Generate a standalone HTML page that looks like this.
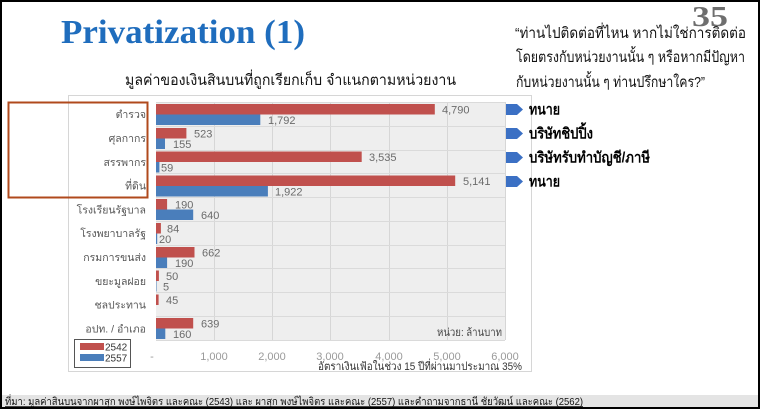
<!DOCTYPE html>
<html>
<head>
<meta charset="utf-8">
<style>
  html,body{margin:0;padding:0;background:#fff;}
  svg{display:block;}
  .th{font-family:"Liberation Sans","DejaVu Sans","Noto Sans CJK SC",sans-serif;}
  .cat{font-size:10.5px;fill:#555;}
  .val{font-size:11px;fill:#6b6b6b;font-family:"Liberation Sans",sans-serif;}
  .tick{font-size:11px;fill:#9a9a9a;font-family:"Liberation Sans",sans-serif;}
  .arr{font-size:15px;font-weight:bold;fill:#000;}
</style>
</head>
<body>
<svg width="760" height="409" viewBox="0 0 760 409" xmlns="http://www.w3.org/2000/svg">
  <rect x="0" y="0" width="760" height="409" fill="#fff"/>

  <!-- Title -->
  <text x="61" y="43" font-family="'Liberation Serif',serif" font-weight="bold" font-size="34" fill="#1f6dbd" textLength="244" lengthAdjust="spacingAndGlyphs">Privatization (1)</text>
  <!-- page number -->
  <text x="692" y="26" font-family="'Liberation Serif',serif" font-weight="bold" font-size="28" fill="#6e6e6e" textLength="36" lengthAdjust="spacingAndGlyphs">35</text>

  <!-- Quote -->
  <text class="th" x="515" y="38" font-size="15" fill="#111" textLength="231" lengthAdjust="spacingAndGlyphs">“ท่านไปติดต่อที่ไหน หากไม่ใช่การติดต่อ</text>
  <text class="th" x="516" y="62" font-size="15" fill="#111" textLength="229" lengthAdjust="spacingAndGlyphs">โดยตรงกับหน่วยงานนั้น ๆ หรือหากมีปัญหา</text>
  <text class="th" x="516" y="87" font-size="15" fill="#111" textLength="189" lengthAdjust="spacingAndGlyphs">กับหน่วยงานนั้น ๆ ท่านปรึกษาใคร?”</text>

  <!-- Subtitle -->
  <text class="th" x="125" y="85" font-size="15" fill="#111" textLength="331" lengthAdjust="spacingAndGlyphs">มูลค่าของเงินสินบนที่ถูกเรียกเก็บ จำแนกตามหน่วยงาน</text>

  <!-- Chart panel -->
  <rect x="68.5" y="95.5" width="463" height="276" fill="#fff" stroke="#d6d6d6" stroke-width="1"/>
  <!-- Plot area -->
  <rect x="156" y="102" width="349" height="238" fill="#eeeeee"/>
  <!-- vertical gridlines -->
  <g stroke="#d6d6d6" stroke-width="1">
    <line x1="214.5" y1="102" x2="214.5" y2="340"/>
    <line x1="272.5" y1="102" x2="272.5" y2="340"/>
    <line x1="330.5" y1="102" x2="330.5" y2="340"/>
    <line x1="389.5" y1="102" x2="389.5" y2="340"/>
    <line x1="447.5" y1="102" x2="447.5" y2="340"/>
    <line x1="505.5" y1="102" x2="505.5" y2="340"/>
  </g>
  <!-- horizontal gridlines -->
  <g stroke="#dadada" stroke-width="1">
    <line x1="156" y1="102.5" x2="505" y2="102.5"/>
    <line x1="156" y1="126.5" x2="505" y2="126.5"/>
    <line x1="156" y1="150.5" x2="505" y2="150.5"/>
    <line x1="156" y1="173.5" x2="505" y2="173.5"/>
    <line x1="156" y1="197.5" x2="505" y2="197.5"/>
    <line x1="156" y1="221.5" x2="505" y2="221.5"/>
    <line x1="156" y1="245.5" x2="505" y2="245.5"/>
    <line x1="156" y1="268.5" x2="505" y2="268.5"/>
    <line x1="156" y1="292.5" x2="505" y2="292.5"/>
    <line x1="156" y1="316.5" x2="505" y2="316.5"/>
    <line x1="156" y1="340.5" x2="505" y2="340.5"/>
  </g>

  <!-- Bars -->
  <g fill="#c0504d">
    <rect x="156" y="104" width="278.8" height="10.5"/>
    <rect x="156" y="128" width="30.4" height="10.5"/>
    <rect x="156" y="151.5" width="205.7" height="10.5"/>
    <rect x="156" y="175.5" width="299.2" height="10.5"/>
    <rect x="156" y="199" width="11.1" height="10.5"/>
    <rect x="156" y="223" width="4.9" height="10.5"/>
    <rect x="156" y="247" width="38.5" height="10.5"/>
    <rect x="156" y="270.5" width="2.9" height="10.5"/>
    <rect x="156" y="294.5" width="2.6" height="10.5"/>
    <rect x="156" y="318" width="37.2" height="10.5"/>
  </g>
  <g fill="#4a7ebb">
    <rect x="156" y="114.5" width="104.3" height="10.5"/>
    <rect x="156" y="138.5" width="9.0" height="10.5"/>
    <rect x="156" y="162" width="3.4" height="10.5"/>
    <rect x="156" y="186" width="111.9" height="10.5"/>
    <rect x="156" y="209.5" width="37.2" height="10.5"/>
    <rect x="156" y="233.5" width="1.2" height="10.5"/>
    <rect x="156" y="257.5" width="11.1" height="10.5"/>
    <rect x="156" y="281" width="0.5" height="10.5"/>
    <rect x="156" y="328.5" width="9.3" height="10.5"/>
  </g>

  <!-- value labels -->
  <g class="val">
    <text x="442" y="113.5">4,790</text>
    <text x="268" y="124">1,792</text>
    <text x="194" y="137.5">523</text>
    <text x="173" y="148">155</text>
    <text x="369" y="161">3,535</text>
    <text x="161" y="171.5">59</text>
    <text x="463" y="185">5,141</text>
    <text x="275" y="195.5">1,922</text>
    <text x="175" y="208.5">190</text>
    <text x="201" y="219">640</text>
    <text x="167" y="232.5">84</text>
    <text x="159" y="243">20</text>
    <text x="202" y="256.5">662</text>
    <text x="175" y="267">190</text>
    <text x="166" y="280">50</text>
    <text x="163" y="290.5">5</text>
    <text x="166" y="304">45</text>
    <text x="201" y="327.5">639</text>
    <text x="173" y="338">160</text>
  </g>

  <!-- category labels -->
  <g class="th cat" text-anchor="end">
    <text x="146" y="118">ตำรวจ</text>
    <text x="146" y="142">ศุลกากร</text>
    <text x="146" y="166">สรรพากร</text>
    <text x="146" y="189.5">ที่ดิน</text>
    <text x="146" y="213.5">โรงเรียนรัฐบาล</text>
    <text x="146" y="237">โรงพยาบาลรัฐ</text>
    <text x="146" y="261">กรมการขนส่ง</text>
    <text x="146" y="285">ขยะมูลฝอย</text>
    <text x="146" y="308.5">ชลประทาน</text>
    <text x="146" y="332.5">อปท. / อำเภอ</text>
  </g>

  <!-- orange highlight box -->
  <rect x="8.5" y="102.5" width="139" height="95" fill="none" stroke="#b04a1c" stroke-width="2"/>

  <!-- unit label -->
  <text class="th" x="502" y="336" text-anchor="end" font-size="11" fill="#444" textLength="65" lengthAdjust="spacingAndGlyphs">หน่วย: ล้านบาท</text>

  <!-- tick labels -->
  <g class="tick" text-anchor="middle">
    <text x="152" y="360">-</text>
    <text x="214" y="360">1,000</text>
    <text x="272" y="360">2,000</text>
    <text x="330" y="360">3,000</text>
    <text x="389" y="360">4,000</text>
    <text x="447" y="360">5,000</text>
    <text x="505" y="360">6,000</text>
  </g>
  <text class="th" x="318" y="370" font-size="11" fill="#333" textLength="204" lengthAdjust="spacingAndGlyphs">อัตราเงินเฟ้อในช่วง 15 ปีที่ผ่านมาประมาณ 35%</text>

  <!-- legend -->
  <rect x="74.5" y="339.5" width="56" height="28" fill="#fff" stroke="#555" stroke-width="1"/>
  <rect x="80" y="343" width="24" height="7" fill="#c0504d"/>
  <rect x="80" y="354" width="24" height="7" fill="#4a7ebb"/>
  <text x="105" y="350.5" font-family="'Liberation Sans',sans-serif" font-size="10" fill="#333">2542</text>
  <text x="105" y="361.5" font-family="'Liberation Sans',sans-serif" font-size="10" fill="#333">2557</text>

  <!-- arrows -->
  <g fill="#3b70c4">
    <polygon points="506,104 517,104 523,109.5 517,115 506,115"/>
    <polygon points="506,128 517,128 523,133.5 517,139 506,139"/>
    <polygon points="506,152 517,152 523,157.5 517,163 506,163"/>
    <polygon points="506,176 517,176 523,181.5 517,187 506,187"/>
  </g>
  <g class="th arr">
    <text x="529" y="114.5" textLength="31" lengthAdjust="spacingAndGlyphs">ทนาย</text>
    <text x="529" y="138.5" textLength="64" lengthAdjust="spacingAndGlyphs">บริษัทชิปปิ้ง</text>
    <text x="529" y="162.5" textLength="121" lengthAdjust="spacingAndGlyphs">บริษัทรับทำบัญชี/ภาษี</text>
    <text x="529" y="186.5" textLength="31" lengthAdjust="spacingAndGlyphs">ทนาย</text>
  </g>

  <!-- footer bar -->
  <rect x="0" y="395" width="760" height="13" fill="#e4e4e4"/>
  <text class="th" x="5" y="405" font-size="10.5" fill="#111" textLength="578" lengthAdjust="spacingAndGlyphs">ที่มา: มูลค่าสินบนจากผาสุก พงษ์ไพจิตร และคณะ (2543) และ ผาสุก พงษ์ไพจิตร และคณะ (2557) และคำถามจากธานี ชัยวัฒน์ และคณะ (2562)</text>
  <line x1="5" y1="406.5" x2="583" y2="406.5" stroke="#111" stroke-width="0.8"/>

  <!-- outer black frame -->
  <rect x="1" y="1" width="758" height="407" fill="none" stroke="#000" stroke-width="2"/>
</svg>
</body>
</html>
